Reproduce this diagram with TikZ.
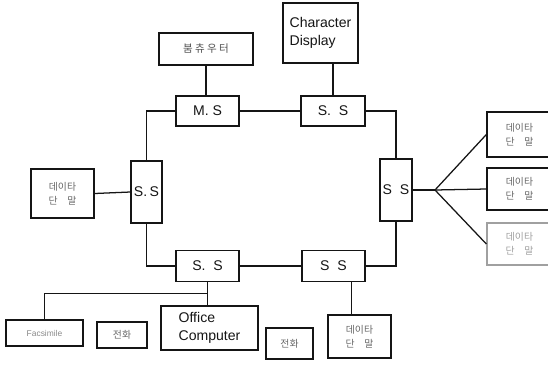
\documentclass[tikz,border=0pt]{standalone}
\usepackage{fontspec}
\setmainfont{Liberation Sans}
\newfontfamily\kr{Noto Sans CJK KR}
\usetikzlibrary{calc}
\definecolor{Ink}{HTML}{151515}
\definecolor{Faint}{HTML}{A0A0A0}

\begin{document}
\begin{tikzpicture}[x=0.025cm,y=-0.025cm,line width=0.9pt,
  box/.style 2 args={draw=Ink,minimum width=#1*0.025cm,minimum height=#2*0.025cm,inner sep=0pt},
  stn/.style={font=\fontsize{10}{13}\selectfont,text=Ink},
  term/.style={font=\kr\fontsize{7}{10}\selectfont,text=Ink!65,align=center}]
  \useasboundingbox (0,0) rectangle (548,364);

  % stations on the ring
  \node[box={63}{30},stn] (ms) at (207.5,111) {M.\ S};
  \node[box={64}{30},stn] (sst) at (333,111) {S.\ \ S};
  \node[box={31}{62},stn] (ssl) at (146.5,192) {S.\,S};
  \node[box={32}{62},stn] (ssr) at (396,190) {S\ \ S};
  \node[box={63}{31},stn] (ssb1) at (207.5,266) {S.\ \ S};
  \node[box={63}{31},stn] (ssb2) at (333.5,266) {S\ \ S};

  % devices
  \node[box={94}{32},font=\kr\fontsize{7.5}{9}\selectfont,text=Ink!75] (comp) at (206,49) {붐\ 츄\ 우\ 터};
  \node[box={75}{60},stn,align=left] (chard) at (320.5,33) {Character\\Display};
  \node[box={63}{49},term] (dtl) at (62.5,193.5) {데이타\\단\quad 말};
  \foreach \n/\y/\h in {1/134.5/45,2/189/42}
    \node[box={65}{\h},term] (dtr\n) at (519.5,\y) {데이타\\단\quad 말};
  \node[box={65}{42},term,draw=Faint,text=Faint] (dtr3) at (519.5,244) {데이타\\단\quad 말};
  \node[box={77}{26},font=\fontsize{6}{7}\selectfont,text=Ink!50] (fax) at (44.5,333) {Facsimile};
  \node[box={50}{26},term] (tel1) at (122,335) {전화};
  \node[box={97}{44},stn,align=left] (oc) at (209.5,328) {Office\\Computer};
  \node[box={47}{31},term] (tel2) at (289.5,343.5) {전화};
  \node[box={63}{43},term] (dtb) at (359.5,336.5) {데이타\\단\quad 말};

  % ring
  \draw[Ink] (ms.east) -- (sst.west);
  \draw[Ink] (ms.west) -| (ssl.north);
  \draw[Ink] (sst.east) -| (ssr.north);
  \draw[Ink] (ssl.south) |- (ssb1.west);
  \draw[Ink] (ssr.south) |- (ssb2.east);
  \draw[Ink] (ssb1.east) -- (ssb2.west);

  % drops
  \draw[Ink] (comp.south) -- (comp.south |- ms.north);
  \draw[Ink] (sst.north) -- (sst.north |- chard.south);
  \draw[Ink] (dtl.east) -- (ssl.west);
  \coordinate (fan) at (435,190);
  \draw[Ink] (ssr.east) -- (fan);
  \foreach \n in {1,2,3}
    \draw[Ink] (fan) -- (dtr\n.west);
  \draw[Ink] (ssb1.south) -- (ssb1.south |- oc.north);
  \coordinate (jb) at ($(ssb1.south)!0.5!(ssb1.south |- oc.north)$);
  \draw[Ink] (jb) -| (fax.north);
  \coordinate (db) at ($(ssb2.south)!0.55!(ssb2.south east)$);
  \draw[Ink] (db) -- (db |- dtb.north);
\end{tikzpicture}
\end{document}
